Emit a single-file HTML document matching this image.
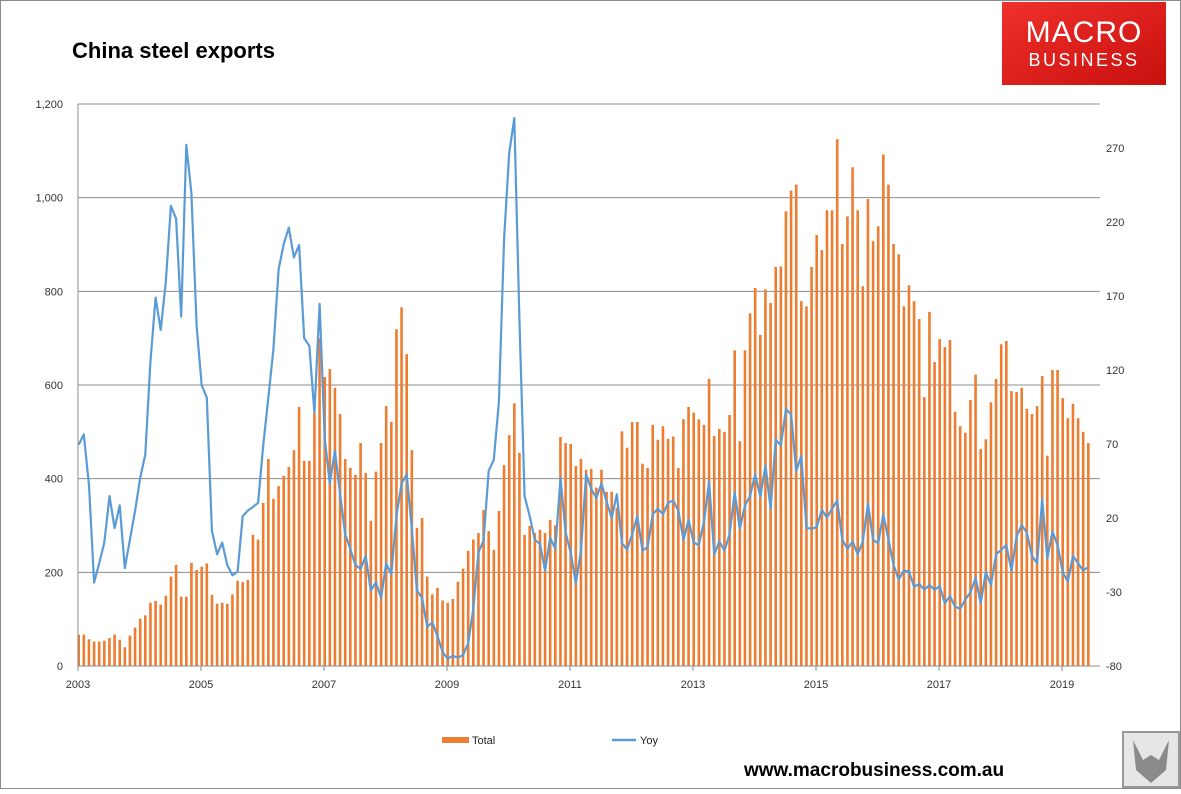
<!DOCTYPE html>
<html><head><meta charset="utf-8">
<style>
html,body{margin:0;padding:0;background:#fff;}
body{width:1181px;height:789px;overflow:hidden;font-family:"Liberation Sans",sans-serif;}
</style></head>
<body>
<svg id="chart" width="1181" height="789" viewBox="0 0 1181 789" xmlns="http://www.w3.org/2000/svg" font-family="Liberation Sans, sans-serif">
<rect x="0.5" y="0.5" width="1180" height="788" fill="#fff" stroke="#8c8c8c"/>
<text x="72" y="58" font-size="22" font-weight="bold" fill="#000">China steel exports</text>
<g>
<defs><linearGradient id="lg" x1="0" y1="0" x2="1" y2="1"><stop offset="0" stop-color="#f0302c"/><stop offset="1" stop-color="#c8100e"/></linearGradient></defs>
<rect x="1002" y="2" width="164" height="83" fill="url(#lg)"/>
<text x="1084" y="42" text-anchor="middle" font-size="30" fill="#fff" letter-spacing="1">MACRO</text>
<text x="1084" y="66" text-anchor="middle" font-size="18" fill="#fff" letter-spacing="2.5">BUSINESS</text>
</g>
<g id="grid"></g>
<g id="bars"></g>
<g id="line"></g>
<g id="axes"></g>
<g>
<g><rect x="442" y="737" width="27" height="6" fill="#ed7d31"/><text x="472" y="744" font-size="11" fill="#222">Total</text></g>
<g><line x1="612" y1="740" x2="636" y2="740" stroke="#5b9bd5" stroke-width="2.5"/><text x="640" y="744" font-size="11" fill="#222">Yoy</text></g>
</g>
<text x="744" y="776" font-size="19" font-weight="bold" fill="#000">www.macrobusiness.com.au</text>
<g>
<rect x="1123" y="732" width="56" height="55" fill="#e6e6e6" stroke="#999" stroke-width="2"/>
<path d="M1133 740 L1143 760 L1151 755 L1159 760 L1169 740 L1166 770 L1151 783 L1136 770 Z" fill="#8a8a8a"/>
</g>
</svg>
<script>
const totals=[67,67,57,52,52,54,60,67,56,40,65,82,101,108,135,139,131,150,191,216,148,148,220,205,212,219,152,133,135,133,153,182,179,184,280,270,348,442,357,384,406,
425,461,553,438,438,539,700,617,634,594,538,442,423,408,476,412,310,415,476,555,521,719,766,666,461,295,316,191,153,167,140,135,143,180,208,246,270,284,333,288,
248,331,429,493,561,455,280,299,284,291,284,312,300,489,476,474,427,442,419,421,381,419,372,372,338,501,466,521,521,432,423,515,483,512,485,490,423,527,553,
541,527,515,613,491,506,500,536,674,480,674,753,807,707,804,775,852,853,971,1015,1028,779,768,852,920,888,973,973,1125,901,960,1065,973,811,997,907,939,1092,1028,901,
879,768,813,779,741,574,756,649,698,681,696,543,512,498,568,622,463,484,563,613,687,694,587,585,594,549,538,555,619,449,632,632,572,529,560,529,500,476];
const yoy=[69.6,76.4,42.1,-23.6,-10.6,3.4,34.8,13.2,28.6,-13.8,5.3,25,47,63,125.5,168.9,147,179.4,230.9,222.3,156.1,272.1,239.5,150,109.5,101.4,11.5,-4.5,3.4,-11.8,-18.7,-16.2,21.3,25,27.4,30.3,69,101,134,188,205,
216.2,196.1,204.4,141.4,136.5,91.1,164.7,74,43.3,65.4,36,9,-0.8,-11.8,-14.3,-5.7,-29,-23.6,-33.9,-10.6,-18,21.3,43.3,49.5,12.7,-29,-33.9,-53.5,-50.6,-59.6,-70.7,-75.1,-73.1,-74.4,-72.6,-64.6,-41.3,-3.3,4.8,51.9,
59.3,98.5,208.8,266.5,290.3,152.4,34.8,21.3,5.3,2.4,-15.5,6.6,-0.8,47,10.2,-3.3,-24.1,-2,49.5,39.7,33.5,43.3,31.1,20,36,2.9,-1.3,9,21.3,-2,0.4,22.5,26.2,22.5,30.3,31.8,25,5.3,18.8,
3.4,1.7,17.6,44.6,-4.5,4.1,-2,9,37.2,12.7,28.6,34.8,49.5,34.3,55.6,26.2,72.8,69.1,93.6,89.9,51.9,61.7,13.4,12.7,13.9,25.4,20.5,26.2,31.8,5.3,-0.8,4.1,-4.5,4.1,29.8,5.3,2.9,22.5,5.3,-11.8,
-21.6,-15.5,-16.2,-26.5,-24.6,-28.5,-25.3,-28.5,-26,-37.6,-32.7,-40,-41.3,-35.1,-30.2,-20.4,-37.6,-16.7,-25.3,-4.5,-1.5,1.7,-15.5,7.8,15.1,10.2,-5.7,-10.6,32.8,-7.4,10.7,1.7,-16.7,-22.9,-5.7,-10.6,-15.5,-13.1];
const leftTicks=[0,200,400,600,800,1000,1200];
const rightTicks=[-80,-30,20,70,120,170,220,270];
const yearLabels=["2003","2005","2007","2009","2011","2013","2015","2017","2019"];

const NS="http://www.w3.org/2000/svg";
const X0=78,X1=1100,Y0=666,Y1=104,STEP=5.125;
function xAt(i){return X0+0.7+STEP*i;}
function yL(v){return Y0-(v/1200)*(Y0-Y1);}
function yR(v){return Y0-((v+80)/350)*518;}
function mk(tag,attrs,parent){const e=document.createElementNS(NS,tag);for(const k in attrs)e.setAttribute(k,attrs[k]);parent.appendChild(e);return e;}
const grid=document.getElementById('grid'),bars=document.getElementById('bars'),line=document.getElementById('line'),axes=document.getElementById('axes');

leftTicks.forEach(t=>{
  if(t>0){const g=mk('line',{x1:X0,x2:X1,y1:yL(t),y2:yL(t),stroke:'#8c8c8c','stroke-width':1},grid);
  
  }
  const tx=mk('text',{x:63,y:yL(t)+4,'text-anchor':'end','font-size':11,fill:'#333'},axes);
  tx.textContent=t.toLocaleString('en-US');
  
  
});
rightTicks.forEach(t=>{
  const tx=mk('text',{x:1106,y:yR(t)+4,'font-size':11,fill:'#333'},axes);
  tx.textContent=t;
  
  
});
totals.forEach((v,i)=>{
  const r=mk('rect',{x:xAt(i)-1.3,y:yL(v),width:2.6,height:Y0-yL(v),fill:'#ed7d31'},bars);
  
  
});
const pts=yoy.map((v,i)=>xAt(i).toFixed(1)+','+yR(v).toFixed(1)).join(' ');
const pl=mk('polyline',{points:pts,fill:'none',stroke:'#5b9bd5','stroke-width':2.2,'stroke-linejoin':'round'},line);



const ax=mk('line',{x1:X0,x2:X1,y1:Y0,y2:Y0,stroke:'#8c8c8c'},axes);


const ay=mk('line',{x1:X0,x2:X0,y1:Y1,y2:Y0,stroke:'#8c8c8c'},axes);


yearLabels.forEach((y,k)=>{
  const x=X0+24*STEP*k;
  const tk=mk('line',{x1:x,x2:x,y1:Y0,y2:Y0+5,stroke:'#8c8c8c'},axes);
  
  
  const tx=mk('text',{x:x,y:688,'text-anchor':'middle','font-size':11,fill:'#333'},axes);
  tx.textContent=y;
  
  
});
</script>
</body></html>
